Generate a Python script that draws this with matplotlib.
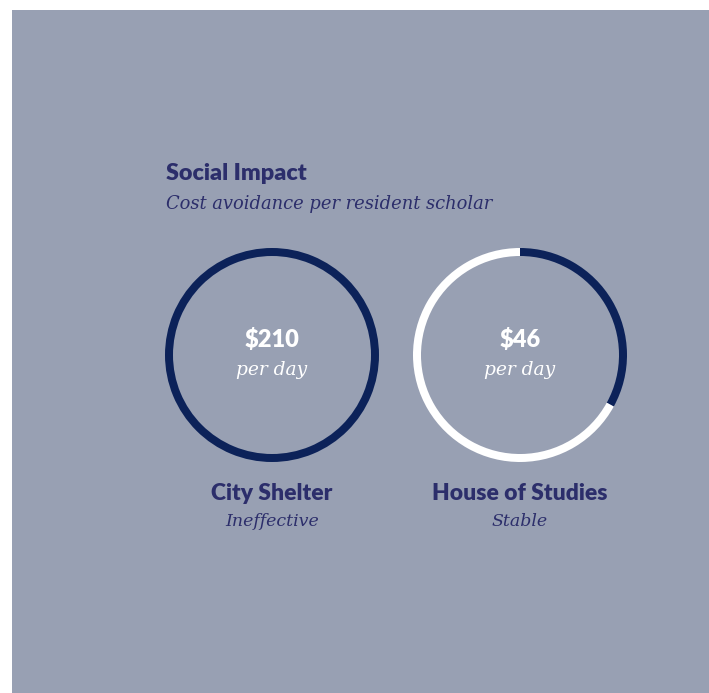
import matplotlib.pyplot as plt
from matplotlib.patches import Rectangle, Wedge

# data
labels = ['City Shelter', 'House of Studies']
ratings = ['Ineffective', 'Stable']
cost = [210, 46]
share = [1.0, 0.33]  # dark part of the ring

W, H = 709, 693
bg = '#98a0b3'
navy = '#0c2259'
ink = '#2c2e6b'
sans = ['Lato', 'DejaVu Sans']
serif = ['DejaVu Serif']

fig = plt.figure(figsize=(W / 100, H / 100), dpi=100)
ax = fig.add_axes((0, 0, 1, 1))
ax.set_xlim(0, W)
ax.set_ylim(0, H)
ax.axis('off')

ax.add_patch(Rectangle((12, 0), W - 12, H - 10, facecolor=bg, edgecolor='none'))

ax.text(166, H - 173, 'Social Impact', fontsize=16.8, fontweight='heavy', family=sans,
        color=ink, va='center', ha='left')
ax.text(166, H - 204, 'Cost avoidance per resident scholar', fontsize=12.9, style='italic',
        family=serif, color=ink, va='center', ha='left')

cx = [272, 520]
cy = H - 355
r, w = 107, 8
for i in range(2):
    s = share[i]
    ax.add_patch(Wedge((cx[i], cy), r, 90 - 360 * s, 90, width=w, facecolor=navy, edgecolor='none'))
    if s < 1:
        ax.add_patch(Wedge((cx[i], cy), r, 90, 450 - 360 * s, width=w, facecolor='white', edgecolor='none'))
    ax.text(cx[i], cy + 15, '$' + str(cost[i]), fontsize=17, fontweight='heavy', family=sans,
            color='white', ha='center', va='center')
    ax.text(cx[i], cy - 15, 'per day', fontsize=13.4, style='italic', family=serif,
            color='white', ha='center', va='center')
    ax.text(cx[i], H - 493, labels[i], fontsize=16.5, fontweight='heavy', family=sans,
            color=ink, ha='center', va='center')
    ax.text(cx[i], H - 522, ratings[i], fontsize=12.5, style='italic', family=serif,
            color=ink, ha='center', va='center')

fig.savefig('out.png', dpi=100, facecolor='white')
